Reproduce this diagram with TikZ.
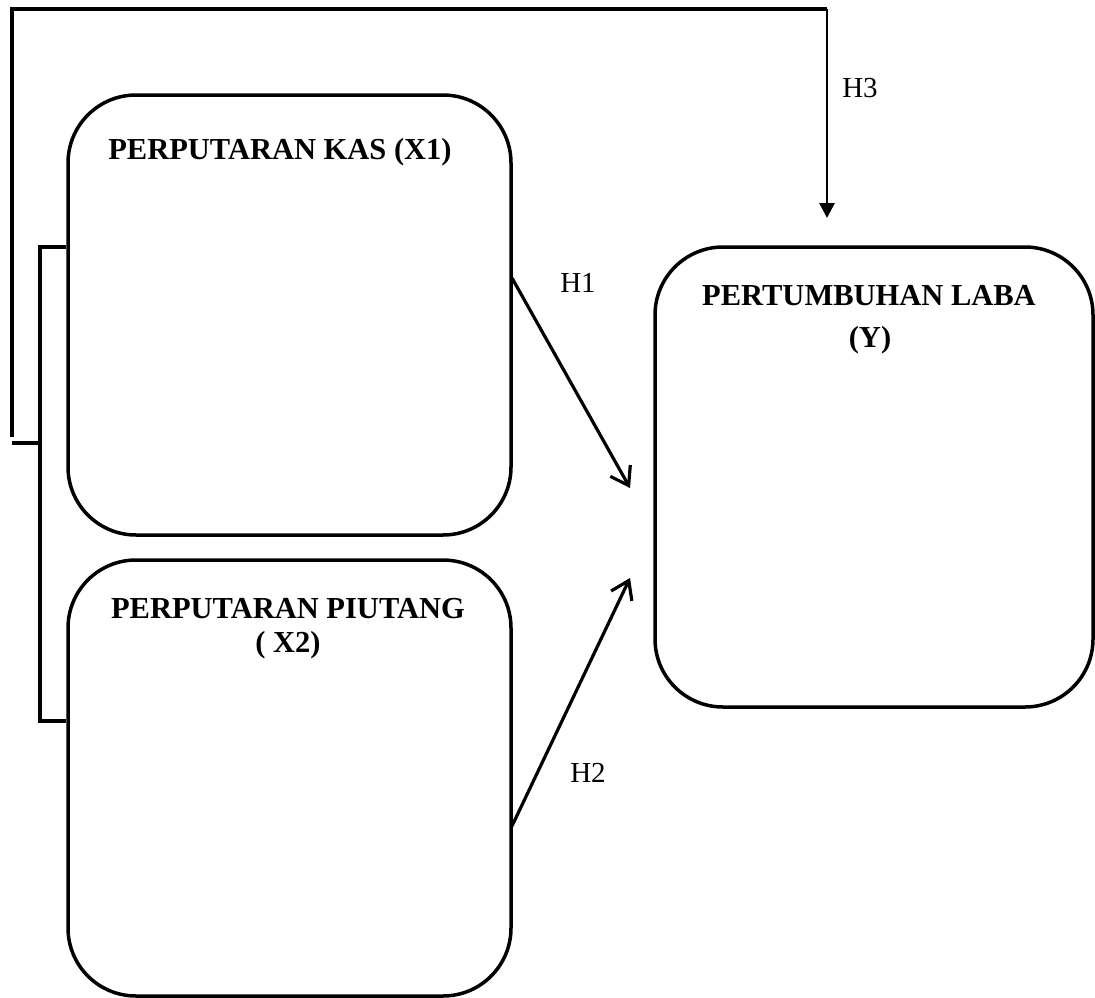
\documentclass[tikz,border=0pt]{standalone}
\usepackage{fontspec}
\setmainfont{Liberation Serif}
\usetikzlibrary{arrows.meta}
\begin{document}
\begin{tikzpicture}[x=1pt,y=-1pt,
  box/.style={draw,line width=3.5pt,rounded corners=68pt,inner sep=0pt},
  title/.style={font=\fontsize{30.5}{36}\selectfont\bfseries,anchor=base,inner sep=0pt},
  hlab/.style={font=\fontsize{29}{34}\selectfont,inner sep=0pt},
  link/.style={line width=3.3pt},
  conn/.style={line width=3.2pt,-{Straight Barb[length=17pt,width=23pt,line width=3.2pt]}},
  down/.style={line width=2.8pt,-{Triangle[length=15pt,width=15pt]}}
]
\useasboundingbox (0,0) rectangle (1095,998);
% boxes
\node[box,minimum width=443pt,minimum height=440pt] (box1) at (289.5,315) {};
\node[box,minimum width=443pt,minimum height=436pt] (box2) at (289.5,778) {};
\node[box,minimum width=438pt,minimum height=460pt] (box3) at (874,477) {};
% titles
\node[title] (t1) at (280,159) {PERPUTARAN KAS (X1)};
\node[title] (t2a) at (288,618) {PERPUTARAN PIUTANG};
\node[title] (t2b) at (288,652) {( X2)};
\node[title] (t3a) at (869,305) {PERTUMBUHAN LABA};
\node[title] (t3b) at (870,347) {(Y)};
% labels
\node[hlab] (h1) at (578,283) {H1};
\node[hlab] (h2) at (588,773) {H2};
\node[hlab] (h3) at (860,88) {H3};
% connector coordinates
\coordinate (h1s) at (512,278);
\coordinate (h1e) at (630,488);
\coordinate (h2s) at (512,826);
\coordinate (h2e) at (630,578);
\coordinate (oa) at (12,437);
\coordinate (ob) at (12,9);
\coordinate (oc) at (827,9);
\coordinate (od) at (827,218);
\coordinate (sa) at (12,443);
\coordinate (sb) at (40,443);
\coordinate (bt) at (40,247);
\coordinate (bb) at (40,721);
% arrows
\draw[conn] (h1s) -- (h1e);
\draw[conn] (h2s) -- (h2e);
\draw[link] (oa) -- (ob) -- (oc);
\draw[down] (oc) -- (od);
\draw[link] (sa) -- (sb);
\draw[link] (box1.west |- bt) -- (bt) -- (bb) -- (box2.west |- bb);
\end{tikzpicture}
\end{document}
